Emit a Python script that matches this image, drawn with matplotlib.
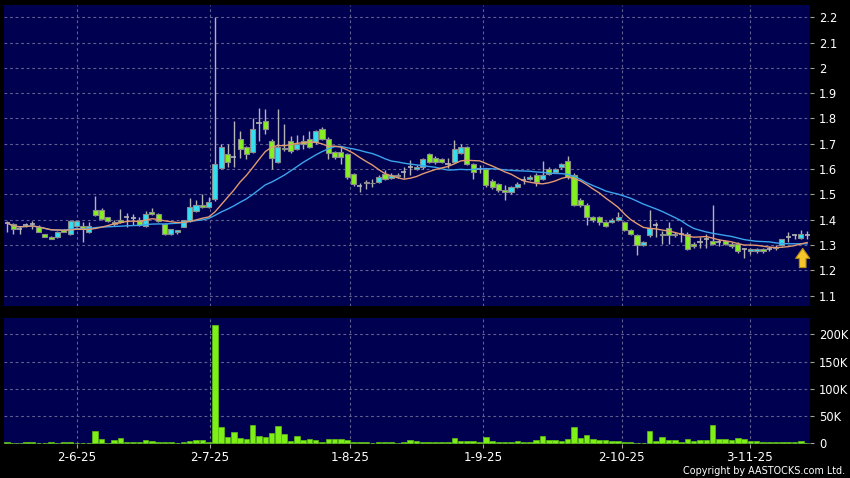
import matplotlib
matplotlib.use('Agg')
import matplotlib.pyplot as plt
import numpy as np
import pandas as pd

# ---------------- data ----------------
opens = [1.387, 1.383, 1.364, 1.379, 1.383, 1.373, 1.342, 1.331, 1.331, 1.361,
         1.344, 1.374, 1.377, 1.351, 1.439, 1.439, 1.409, 1.383, 1.400, 1.409,
         1.405, 1.399, 1.374, 1.432, 1.422, 1.383, 1.342, 1.350, 1.372, 1.395,
         1.434, 1.460, 1.450, 1.480, 1.605, 1.658, 1.647, 1.718, 1.687, 1.668,
         1.782, 1.790, 1.711, 1.629, 1.685, 1.711, 1.680, 1.713, 1.717, 1.706,
         1.759, 1.720, 1.667, 1.667, 1.659, 1.580, 1.532, 1.548, 1.547, 1.549,
         1.580, 1.564, 1.578, 1.590, 1.607, 1.600, 1.608, 1.659, 1.643, 1.640,
         1.620, 1.630, 1.663, 1.687, 1.620, 1.600, 1.600, 1.552, 1.541, 1.518,
         1.509, 1.529, 1.558, 1.561, 1.578, 1.561, 1.600, 1.589, 1.609, 1.631,
         1.578, 1.479, 1.459, 1.410, 1.410, 1.390, 1.390, 1.400, 1.390, 1.360,
         1.340, 1.300, 1.338, 1.378, 1.338, 1.368, 1.338, 1.344, 1.344, 1.305,
         1.310, 1.325, 1.315, 1.310, 1.315, 1.305, 1.305, 1.285, 1.278, 1.278,
         1.285, 1.285, 1.294, 1.300, 1.330, 1.338, 1.328, 1.340]
highs = [1.396, 1.385, 1.376, 1.385, 1.396, 1.380, 1.345, 1.335, 1.355, 1.365,
         1.398, 1.398, 1.390, 1.390, 1.494, 1.445, 1.412, 1.398, 1.442, 1.426,
         1.422, 1.410, 1.435, 1.445, 1.428, 1.386, 1.365, 1.360, 1.400, 1.487,
         1.478, 1.500, 1.490, 2.200, 1.700, 1.700, 1.790, 1.750, 1.690, 1.800,
         1.840, 1.838, 1.720, 1.838, 1.780, 1.732, 1.734, 1.735, 1.750, 1.755,
         1.765, 1.725, 1.672, 1.690, 1.665, 1.585, 1.545, 1.555, 1.560, 1.575,
         1.597, 1.585, 1.585, 1.610, 1.637, 1.615, 1.645, 1.665, 1.650, 1.645,
         1.643, 1.716, 1.700, 1.690, 1.625, 1.615, 1.605, 1.560, 1.545, 1.538,
         1.535, 1.550, 1.571, 1.575, 1.585, 1.631, 1.610, 1.605, 1.625, 1.650,
         1.585, 1.485, 1.465, 1.415, 1.415, 1.395, 1.405, 1.432, 1.395, 1.365,
         1.345, 1.315, 1.437, 1.390, 1.355, 1.390, 1.350, 1.370, 1.350, 1.310,
         1.330, 1.345, 1.457, 1.325, 1.320, 1.310, 1.310, 1.290, 1.290, 1.290,
         1.290, 1.295, 1.300, 1.325, 1.350, 1.345, 1.360, 1.355]
lows = [1.350, 1.344, 1.344, 1.370, 1.364, 1.351, 1.331, 1.322, 1.328, 1.350,
        1.340, 1.370, 1.312, 1.348, 1.415, 1.400, 1.390, 1.375, 1.388, 1.370,
        1.380, 1.375, 1.370, 1.420, 1.390, 1.340, 1.338, 1.345, 1.370, 1.390,
        1.430, 1.445, 1.447, 1.475, 1.600, 1.610, 1.610, 1.645, 1.640, 1.665,
        1.710, 1.740, 1.600, 1.625, 1.670, 1.665, 1.675, 1.680, 1.685, 1.700,
        1.715, 1.640, 1.640, 1.620, 1.560, 1.535, 1.510, 1.520, 1.530, 1.545,
        1.555, 1.560, 1.565, 1.565, 1.578, 1.595, 1.600, 1.625, 1.620, 1.625,
        1.605, 1.625, 1.660, 1.615, 1.560, 1.585, 1.530, 1.520, 1.510, 1.478,
        1.500, 1.525, 1.541, 1.555, 1.535, 1.555, 1.575, 1.585, 1.600, 1.560,
        1.455, 1.450, 1.380, 1.390, 1.380, 1.370, 1.385, 1.395, 1.355, 1.340,
        1.260, 1.295, 1.330, 1.330, 1.305, 1.305, 1.330, 1.310, 1.280, 1.290,
        1.290, 1.290, 1.300, 1.295, 1.300, 1.290, 1.270, 1.250, 1.265, 1.270,
        1.270, 1.275, 1.280, 1.295, 1.310, 1.325, 1.325, 1.325]
closes = [1.387, 1.364, 1.364, 1.379, 1.383, 1.351, 1.331, 1.322, 1.351, 1.353,
          1.394, 1.394, 1.364, 1.374, 1.418, 1.403, 1.394, 1.392, 1.392, 1.409,
          1.405, 1.379, 1.422, 1.422, 1.396, 1.344, 1.362, 1.358, 1.397, 1.450,
          1.458, 1.450, 1.470, 1.621, 1.687, 1.629, 1.647, 1.680, 1.660, 1.759,
          1.782, 1.759, 1.642, 1.687, 1.680, 1.671, 1.700, 1.700, 1.688, 1.750,
          1.720, 1.665, 1.647, 1.647, 1.568, 1.541, 1.532, 1.545, 1.545, 1.568,
          1.562, 1.578, 1.572, 1.590, 1.607, 1.608, 1.640, 1.630, 1.630, 1.630,
          1.620, 1.680, 1.687, 1.620, 1.590, 1.600, 1.538, 1.529, 1.518, 1.509,
          1.529, 1.541, 1.558, 1.569, 1.548, 1.578, 1.580, 1.600, 1.620, 1.568,
          1.459, 1.459, 1.409, 1.397, 1.390, 1.377, 1.400, 1.410, 1.360, 1.344,
          1.300, 1.310, 1.368, 1.378, 1.344, 1.338, 1.344, 1.344, 1.285, 1.298,
          1.310, 1.325, 1.305, 1.310, 1.305, 1.298, 1.278, 1.285, 1.285, 1.285,
          1.278, 1.285, 1.290, 1.322, 1.330, 1.338, 1.344, 1.340]
volumes_k = [3, 1, 1, 1.5, 1.5, 1, 1, 1.5, 1, 1.5,
             1.5, 1, 0.5, 0.5, 23, 7, 1, 5.5, 10, 2,
             1.5, 2, 6, 4, 1.5, 1.5, 2, 1, 1.5, 5,
             6, 6, 2.5, 217, 30.6, 11, 21, 10.4, 7.3, 33.6,
             13.5, 11, 19, 32.4, 17.7, 3.7, 13.5, 6, 8, 6,
             3, 8, 7.3, 7.3, 6, 2.5, 3, 2.5, 1, 2,
             3, 3, 1, 3, 6, 5, 2, 2, 1.5, 2,
             2, 10.4, 5, 5, 3.7, 2, 11.6, 3.7, 2, 2.5,
             2, 5, 2, 3, 6, 13.5, 5.5, 5.5, 4.3, 8,
             30, 9.8, 15.3, 8, 5.5, 5.5, 3.7, 4.3, 1.5, 1.5,
             1, 1, 22.6, 4.3, 11.6, 6, 5.5, 3, 8.6, 5,
             5.5, 6, 33.6, 7.3, 7.3, 6, 9, 7.3, 4, 3.7,
             2, 1.5, 1.5, 2.5, 2, 2.5, 3.7, 0.5]
date_labels = ['2-6-25', '2-7-25', '1-8-25', '1-9-25', '2-10-25', '3-11-25']
date_label_index = [11.1, 32.2, 54.4, 75.6, 97.6, 117.9]
price_ticks = [1.1, 1.2, 1.3, 1.4, 1.5, 1.6, 1.7, 1.8, 1.9, 2.0, 2.1, 2.2]
price_tick_labels = ['1.1', '1.2', '1.3', '1.4', '1.5', '1.6', '1.7', '1.8', '1.9', '2', '2.1', '2.2']
vol_ticks_k = [0, 50, 100, 150, 200]
vol_tick_labels = ['0', '50K', '100K', '150K', '200K']

# ---------------- styling ----------------
BG = '#000050'
UP = '#33dff0'
DOWN = '#84f01e'
EDGE = '#8c8c8c'
WICK = '#b4b4b4'
GRID = '#60608f'
MA_S = '#e39a70'
MA_L = '#3ba4ec'
VOL = '#7ef018'

W, H = 850, 478
fig = plt.figure(figsize=(W / 100, H / 100), dpi=100, facecolor='black')
ax1 = fig.add_axes([4 / W, 1 - 306 / H, 806 / W, 301 / H])
ax2 = fig.add_axes([4 / W, 1 - 443.5 / H, 806 / W, 125.5 / H])

o = np.array(opens); h = np.array(highs); l = np.array(lows); c = np.array(closes)
idx = np.arange(len(c))
ma_short = pd.Series(c).rolling(10, min_periods=1).mean()
ma_long = pd.Series(c).rolling(20, min_periods=1).mean()

for ax in (ax1, ax2):
    ax.set_facecolor(BG)
    for s in ax.spines.values():
        s.set_visible(False)
    ax.set_axisbelow(True)
    ax.yaxis.tick_right()
    ax.tick_params(axis='y', colors='#a0a0a0', labelcolor='white', length=3,
                   width=0.8, pad=3.5, labelsize=8.3)
    ax.set_xticks(date_label_index)
    ax.grid(True, color=GRID, linestyle=(0, (2.5, 2.5)), linewidth=0.8)
    ax.set_xlim(-0.48, 127.46)

# candles
body_w = 0.8
ax1.vlines(idx, l, h, color=WICK, linewidth=1.0, zorder=2)
up = c > o
dn = c < o
eq = c == o
ax1.bar(idx[up], (c - o)[up], bottom=o[up], width=body_w, color=UP,
        edgecolor=EDGE, linewidth=0.8, zorder=3)
ax1.bar(idx[dn], (o - c)[dn], bottom=c[dn], width=body_w, color=DOWN,
        edgecolor=EDGE, linewidth=0.8, zorder=3)
ax1.hlines(c[eq], idx[eq] - body_w / 2, idx[eq] + body_w / 2, color=WICK,
           linewidth=1.2, zorder=3)

ax1.plot(idx, ma_long, color=MA_L, linewidth=1.0, zorder=4)
ax1.plot(idx, ma_short, color=MA_S, linewidth=1.0, zorder=4)

# arrow marker under the latest moving average point
ax1.annotate('', xy=(idx[-1] - 0.7, ma_short.iloc[-1] - 0.012),
             xytext=(idx[-1] - 0.7, ma_short.iloc[-1] - 0.11),
             arrowprops=dict(arrowstyle='simple,head_width=0.85,head_length=0.6,tail_width=0.4',
                             mutation_scale=12, fc='#f7c62a', ec='#b88a10', lw=0.8),
             zorder=6)

ax1.set_ylim(1.0589, 2.2486)
ax1.set_yticks(price_ticks)
ax1.set_yticklabels(price_tick_labels)
ax1.tick_params(axis='x', length=0, labelbottom=False)

# volume
ax2.bar(idx, volumes_k, width=0.88, color=VOL, edgecolor='#5cc010', linewidth=0.5, zorder=3)
ax2.set_ylim(-0.4, 229.9)
ax2.set_yticks(vol_ticks_k)
ax2.set_yticklabels(vol_tick_labels)
ax2.set_xticklabels(date_labels)
ax2.tick_params(axis='x', colors='#a0a0a0', labelcolor='white', length=3,
                width=0.8, pad=2.5, labelsize=8.6)

fig.text(845 / W, 4.5 / H, 'Copyright by AASTOCKS.com Ltd.', color='white',
         fontsize=6.9, ha='right', va='baseline')

fig.savefig('out.png', dpi=100, facecolor='black')
